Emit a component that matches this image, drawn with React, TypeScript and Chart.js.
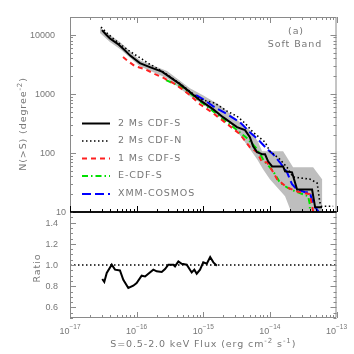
import React, { useEffect, useRef } from "react";
import { Chart, registerables } from "chart.js";

Chart.register(...registerables);

// ---------------- data ----------------
// 2 Ms CDF-S (solid black)
const cdfs2Flux = [3.02e-17, 3.47e-17, 3.98e-17, 5.26e-17, 6.7e-17, 8.0e-17, 1.12e-16, 1.58e-16, 2.4e-16, 3.16e-16, 4.47e-16, 6.31e-16, 8.9e-16, 1.4e-15, 1.98e-15, 3.21e-15, 4.24e-15, 5.01e-15, 5.6e-15, 6.43e-15, 7.64e-15, 8.47e-15, 9.4e-15, 1.08e-14, 1.58e-14, 1.69e-14, 2.15e-14, 2.56e-14, 4.3e-14, 4.78e-14, 6.08e-14];
const cdfs2N = [12000, 10100, 8630, 6950, 5400, 4440, 3310, 2840, 2380, 1920, 1460, 1070, 782, 551, 403, 273, 243, 185, 130, 103, 95, 95, 72, 59, 59, 49, 47, 24, 24, 12, 12];

// 2 Ms CDF-N (dotted black)
const cdfnFlux = [2.92e-17, 3.47e-17, 4.27e-17, 6.04e-17, 7.43e-17, 9.46e-17, 1.21e-16, 1.48e-16, 1.89e-16, 2.67e-16, 4.47e-16, 8.9e-16, 1.5e-15, 2.28e-15, 3.21e-15, 4.24e-15, 5.6e-15, 6.6e-15, 8.47e-15, 1.0e-14, 1.41e-14, 1.81e-14, 2.23e-14, 3.98e-14, 5.12e-14, 5.62e-14, 5.88e-14, 8.9e-14];
const cdfnN = [13500, 11100, 8970, 6560, 5510, 4610, 3870, 3310, 2840, 2240, 1490, 813, 695, 509, 419, 318, 224, 192, 152, 107, 78, 57, 39, 36, 31, 14.6, 12.5, 12.5];

// 1 Ms CDF-S (red dashed)
const cdfs1Flux = [6.25e-17, 7.41e-17, 9.46e-17, 1.34e-16, 1.89e-16, 2.4e-16, 3.78e-16, 4.8e-16, 6.31e-16, 8.9e-16, 1.4e-15, 2.51e-15, 3.55e-15, 5.01e-15, 6.43e-15, 7.64e-15, 9.08e-15, 1.12e-14, 1.28e-14, 1.81e-14, 2.65e-14, 3.98e-14, 4.46e-14, 4.46e-14];
const cdfs1N = [4190, 3580, 2940, 2620, 2160, 1920, 1460, 1200, 951, 668, 471, 284, 208, 125, 103, 69.5, 69.5, 47, 36, 26, 22, 20, 10.3, 7.5];

// E-CDF-S (green dash-dot)
const ecdfsFlux = [2.76e-16, 3.78e-16, 4.98e-16, 6.31e-16, 8.9e-16, 1.4e-15, 1.98e-15, 3.21e-15, 4.55e-15, 6.43e-15, 7.9e-15, 1.12e-14, 1.41e-14, 1.81e-14, 2.39e-14, 3.75e-14, 3.98e-14, 3.98e-14];
const ecdfsN = [1710, 1460, 1250, 1030, 752, 509, 372, 243, 177, 116, 78, 49, 31.8, 26, 22.4, 18.5, 13.5, 7.5];

// XMM-COSMOS (blue dashed)
const cosmosFlux = [7.8e-16, 9.9e-16, 1.4e-15, 2.28e-15, 3.55e-15, 5.01e-15, 6.6e-15, 9.08e-15, 1.12e-14, 1.41e-14, 1.81e-14, 2.15e-14, 2.56e-14, 3.38e-14, 3.98e-14, 4.46e-14, 5.3e-14, 5.5e-14];
const cosmosN = [950, 813, 620, 453, 331, 224, 171, 116, 95, 69.5, 47, 29.5, 24, 21.6, 21.6, 13.5, 10.3, 7.5];

// grey error band of 2 Ms CDF-S (upper edge, then lower edge back)
const bandFlux = [2.82e-17, 3.98e-17, 5.62e-17, 1.12e-16, 2.86e-16, 6.31e-16, 9.9e-16, 1.78e-15, 3.55e-15, 5.01e-15, 6.6e-15, 7.64e-15, 1.58e-14, 2.23e-14, 4.46e-14, 6.08e-14, 6.08e-14,
  2.65e-14, 1.69e-14, 1.0e-14, 7.9e-15, 6.43e-15, 5.01e-15, 3.55e-15, 2.51e-15, 1.78e-15, 9.9e-16, 6.31e-16, 2.86e-16, 1.12e-16, 5.62e-17, 3.98e-17, 2.82e-17];
const bandN = [13200, 9880, 7520, 3720, 2430, 1250, 950, 643, 331, 243, 158, 107, 107, 57, 57, 36, 5,
  5, 18.5, 36, 53, 78, 116, 200, 318, 403, 668, 914, 1845, 2940, 5730, 7520, 10700];

// ratio panel
const ratioFlux = [3.05e-17, 3.27e-17, 3.56e-17, 4.23e-17, 4.74e-17, 5.62e-17, 6.31e-17, 7.5e-17, 8.91e-17, 1.0e-16, 1.19e-16, 1.34e-16, 1.5e-16, 1.78e-16, 2.0e-16, 2.38e-16, 2.67e-16, 2.99e-16, 3.56e-16, 3.77e-16, 4.23e-16, 4.75e-16, 5.65e-16, 6.71e-16, 7.35e-16, 7.98e-16, 8.95e-16, 1.0e-15, 1.13e-15, 1.27e-15, 1.42e-15, 1.6e-15];
const ratioValues = [0.868, 0.84, 0.925, 1.003, 0.956, 0.949, 0.861, 0.783, 0.805, 0.83, 0.899, 0.892, 0.918, 0.956, 0.94, 0.934, 0.962, 1.003, 1.003, 0.987, 1.034, 1.012, 1.003, 0.93, 0.956, 0.918, 0.956, 1.025, 1.012, 1.075, 1.025, 0.993];
const unityFlux = [1e-17, 1e-13];
const unityValues = [1, 1];

// ticks & labels
const xTickExponents = [-17, -16, -15, -14, -13];
const nTickValues = [10, 100, 1000, 10000];
const nTickLabels = ["10", "100", "1000", "10000"];
const ratioTickValues = [0.6, 0.8, 1.0, 1.2, 1.4];
const ratioTickLabels = ["0.6", "0.8", "1.0", "1.2", "1.4"];
const legendLabels = ["2 Ms CDF-S", "2 Ms CDF-N", "1 Ms CDF-S", "E-CDF-S", "XMM-COSMOS"];

// ---------------- styles ----------------
const AXIS = "#8a8a8a";
const TEXT = "#777777";
const TICK_FONT = '9px "Liberation Sans"';
const TICK_SUP_FONT = '6.5px "Liberation Sans"';
const LABEL_FONT = '9.5px "DejaVu Sans"';
const LABEL_SUP_FONT = '7px "DejaVu Sans"';
const LEFT = 70;
const RIGHT_PAD = 17.5;

type Part = [string, boolean];

function drawParts(ctx: any, parts: Part[], x: number, y: number, align: string, base: string, sup: string, rise: number, spacing: string) {
  ctx.letterSpacing = spacing;
  let total = 0;
  const widths = parts.map(([t, s]) => {
    ctx.font = s ? sup : base;
    const w = ctx.measureText(t).width;
    total += w;
    return w;
  });
  let cx = align === "center" ? x - total / 2 : align === "right" ? x - total : x;
  ctx.textAlign = "left";
  parts.forEach(([t, s], i) => {
    ctx.font = s ? sup : base;
    ctx.fillText(t, cx, s ? y - rise : y);
    cx += widths[i];
  });
  ctx.letterSpacing = "0px";
}

function pts(xs: number[], ys: number[]) {
  return xs.map((x, i) => ({ x, y: ys[i] }));
}

const val = (m: number, e: number) => Number(`${m}e${e}`);

function xMinorTicks(ctx: any, xs: any, yEdge: number, dir: number) {
  for (let e = -17; e <= -13; e++) {
    for (let m = 1; m <= 9; m++) {
      const v = val(m, e);
      if (v > xs.max * 1.0001) continue;
      const p = Math.round(xs.getPixelForValue(v)) + 0.5;
      const len = m === 1 ? 6 : 3;
      ctx.moveTo(p, yEdge);
      ctx.lineTo(p, yEdge + dir * len);
    }
  }
}

const topDecor = {
  id: "topDecor",
  afterDraw(chart: any) {
    const { ctx, chartArea: a, scales } = chart;
    const xs = scales.x;
    const ys = scales.y;
    ctx.save();
    // frame
    ctx.strokeStyle = AXIS;
    ctx.lineWidth = 1;
    ctx.beginPath();
    ctx.moveTo(a.left + 0.5, a.bottom);
    ctx.lineTo(a.left + 0.5, a.top + 0.5);
    ctx.lineTo(a.right - 0.5, a.top + 0.5);
    ctx.lineTo(a.right - 0.5, a.bottom);
    // y ticks
    for (let e = 1; e <= 4; e++) {
      for (let m = 1; m <= 9; m++) {
        const v = val(m, e);
        if (v < ys.min || v > ys.max) continue;
        const p = Math.round(ys.getPixelForValue(v)) + 0.5;
        const len = m === 1 ? 6 : 3;
        ctx.moveTo(a.left, p);
        ctx.lineTo(a.left + len, p);
        ctx.moveTo(a.right, p);
        ctx.lineTo(a.right - len, p);
      }
    }
    xMinorTicks(ctx, xs, a.top, 1);
    ctx.stroke();
    // black separator axis
    ctx.strokeStyle = "#000";
    ctx.beginPath();
    xMinorTicks(ctx, xs, a.bottom, -1);
    ctx.stroke();
    ctx.lineWidth = 1.6;
    ctx.beginPath();
    ctx.moveTo(a.left, a.bottom);
    ctx.lineTo(a.right, a.bottom);
    ctx.stroke();

    // y tick labels
    ctx.fillStyle = TEXT;
    ctx.font = TICK_FONT;
    ctx.textBaseline = "middle";
    ctx.textAlign = "right";
    nTickValues.forEach((v, i) => {
      const p = ys.getPixelForValue(v);
      const xr = v === 10 ? 66 : 55;
      ctx.fillText(nTickLabels[i], xr, p + 0.5);
    });

    // y title
    ctx.save();
    ctx.translate(24, 124);
    ctx.rotate(-Math.PI / 2);
    ctx.textBaseline = "middle";
    drawParts(ctx, [["N(>S) (degree", false], ["-2", true], [")", false]], 0, 0, "center", LABEL_FONT, LABEL_SUP_FONT, 4, "0.9px");
    ctx.restore();

    // annotation
    ctx.textBaseline = "middle";
    drawParts(ctx, [["(a)", false]], 296, 32, "center", LABEL_FONT, LABEL_SUP_FONT, 0, "0.9px");
    drawParts(ctx, [["Soft Band", false]], 295, 45, "center", LABEL_FONT, LABEL_SUP_FONT, 0, "0.9px");

    // legend
    const rows = [123.5, 141, 158.5, 176, 194];
    const ds = chart.data.datasets;
    legendLabels.forEach((lab, i) => {
      const d = ds[i];
      const y = rows[i];
      ctx.save();
      ctx.strokeStyle = d.borderColor;
      ctx.lineWidth = d.borderWidth;
      ctx.setLineDash(d.borderDash || []);
      ctx.beginPath();
      ctx.moveTo(82, y);
      ctx.lineTo(110, y);
      ctx.stroke();
      ctx.restore();
      ctx.fillStyle = TEXT;
      ctx.textBaseline = "middle";
      drawParts(ctx, [[lab, false]], 118, y, "left", LABEL_FONT, LABEL_SUP_FONT, 0, "0.9px");
    });
    ctx.restore();
  },
};

const bottomDecor = {
  id: "bottomDecor",
  afterDraw(chart: any) {
    const { ctx, chartArea: a, scales } = chart;
    const xs = scales.x;
    const ys = scales.y;
    ctx.save();
    ctx.strokeStyle = AXIS;
    ctx.lineWidth = 1;
    ctx.beginPath();
    ctx.moveTo(a.left + 0.5, a.top);
    ctx.lineTo(a.left + 0.5, a.bottom - 0.5);
    ctx.lineTo(a.right - 0.5, a.bottom - 0.5);
    ctx.lineTo(a.right - 0.5, a.top);
    for (let k = 0; k <= 20; k++) {
      const v = 0.5 + k * 0.05;
      const p = Math.round(ys.getPixelForValue(v)) + 0.5;
      const major = k % 4 === 2;
      const len = major ? 6 : 3;
      ctx.moveTo(a.left, p);
      ctx.lineTo(a.left + len, p);
      ctx.moveTo(a.right, p);
      ctx.lineTo(a.right - len, p);
    }
    xMinorTicks(ctx, xs, a.bottom, -1);
    ctx.stroke();
    ctx.strokeStyle = "#000";
    ctx.lineWidth = 1.6;
    ctx.beginPath();
    ctx.moveTo(a.left, a.top);
    ctx.lineTo(a.right, a.top);
    ctx.stroke();

    ctx.fillStyle = TEXT;
    ctx.font = TICK_FONT;
    ctx.textBaseline = "middle";
    ctx.textAlign = "right";
    ratioTickValues.forEach((v, i) => {
      ctx.fillText(ratioTickLabels[i], 58, ys.getPixelForValue(v) + 0.5);
    });

    ctx.textBaseline = "alphabetic";
    xTickExponents.forEach((e) => {
      const p = xs.getPixelForValue(val(1, e));
      drawParts(ctx, [["10", false], [`\u2212${-e}`, true]], p, 133.5, "center", TICK_FONT, TICK_SUP_FONT, 4.5, "0px");
    });

    // ratio label
    ctx.save();
    ctx.translate(38, 68);
    ctx.rotate(-Math.PI / 2);
    ctx.textBaseline = "middle";
    drawParts(ctx, [["Ratio", false]], 0, 0, "center", LABEL_FONT, LABEL_SUP_FONT, 0, "0.9px");
    ctx.restore();

    // x title
    ctx.textBaseline = "alphabetic";
    drawParts(
      ctx,
      [["S=0.5-2.0 keV Flux (erg cm", false], ["-2", true], [" s", false], ["-1", true], [")", false]],
      (a.left + a.right) / 2,
      146.5,
      "center",
      LABEL_FONT,
      LABEL_SUP_FONT,
      4,
      "0.9px"
    );
    ctx.restore();
  },
};

function hiddenLogX(height: number) {
  return {
    type: "logarithmic" as const,
    min: 1e-17,
    max: 1e-13,
    ticks: { display: false },
    grid: { display: false },
    border: { display: false },
    afterFit: (s: any) => {
      s.height = height;
    },
  };
}

export default function App() {
  const topRef = useRef<HTMLCanvasElement>(null);
  const botRef = useRef<HTMLCanvasElement>(null);

  useEffect(() => {
    const mk = (label: string, xs: number[], ys: number[], color: string, dash: number[], width: number, order: number) => ({
      label,
      data: pts(xs, ys),
      borderColor: color,
      borderDash: dash,
      borderWidth: width,
      pointRadius: 0,
      fill: false,
      tension: 0,
      clip: 0,
      order,
    });

    const top = new Chart(topRef.current as HTMLCanvasElement, {
      type: "line",
      data: {
        datasets: [
          mk(legendLabels[0], cdfs2Flux, cdfs2N, "#000000", [], 2, 1),
          mk(legendLabels[1], cdfnFlux, cdfnN, "#000000", [1.5, 2.5], 1.6, 2),
          mk(legendLabels[2], cdfs1Flux, cdfs1N, "#ff2020", [5, 4], 2, 3),
          mk(legendLabels[3], ecdfsFlux, ecdfsN, "#00e000", [6, 3, 1.5, 3], 2, 4),
          mk(legendLabels[4], cosmosFlux, cosmosN, "#0000ff", [9, 4], 2, 5),
          {
            label: "band",
            data: pts(bandFlux, bandN),
            borderWidth: 0,
            borderColor: "rgba(0,0,0,0)",
            backgroundColor: "#bebebe",
            pointRadius: 0,
            fill: "shape",
            tension: 0,
            clip: 0,
            order: 10,
          } as any,
        ],
      },
      options: {
        responsive: false,
        animation: false,
        devicePixelRatio: 1,
        events: [],
        layout: { padding: { left: 0, right: RIGHT_PAD, top: 17, bottom: 10 } },
        plugins: { legend: { display: false }, tooltip: { enabled: false } },
        scales: {
          x: hiddenLogX(0),
          y: {
            type: "logarithmic",
            min: 10,
            max: 20000,
            ticks: { display: false },
            grid: { display: false },
            border: { display: false },
            afterFit: (s: any) => {
              s.width = LEFT;
            },
          },
        },
      } as any,
      plugins: [topDecor],
    });

    const bottom = new Chart(botRef.current as HTMLCanvasElement, {
      type: "line",
      data: {
        datasets: [
          mk("Ratio", ratioFlux, ratioValues, "#000000", [], 2, 1),
          mk("unity", unityFlux, unityValues, "#000000", [1.5, 2.5], 1.4, 2),
        ],
      },
      options: {
        responsive: false,
        animation: false,
        devicePixelRatio: 1,
        events: [],
        layout: { padding: { left: 0, right: RIGHT_PAD, top: 12, bottom: 0 } },
        plugins: { legend: { display: false }, tooltip: { enabled: false } },
        scales: {
          x: hiddenLogX(36),
          y: {
            type: "linear",
            min: 0.5,
            max: 1.5,
            ticks: { display: false },
            grid: { display: false },
            border: { display: false },
            afterFit: (s: any) => {
              s.width = LEFT;
            },
          },
        },
      } as any,
      plugins: [bottomDecor],
    });

    return () => {
      top.destroy();
      bottom.destroy();
    };
  }, []);

  return (
    <div style={{ position: "fixed", left: 0, top: 0, width: 354, height: 354, background: "#fff" }}>
      <canvas ref={topRef} width={354} height={222} style={{ position: "absolute", left: 0, top: 0, width: 354, height: 222 }} />
      <canvas ref={botRef} width={354} height={154} style={{ position: "absolute", left: 0, top: 200, width: 354, height: 154 }} />
    </div>
  );
}
